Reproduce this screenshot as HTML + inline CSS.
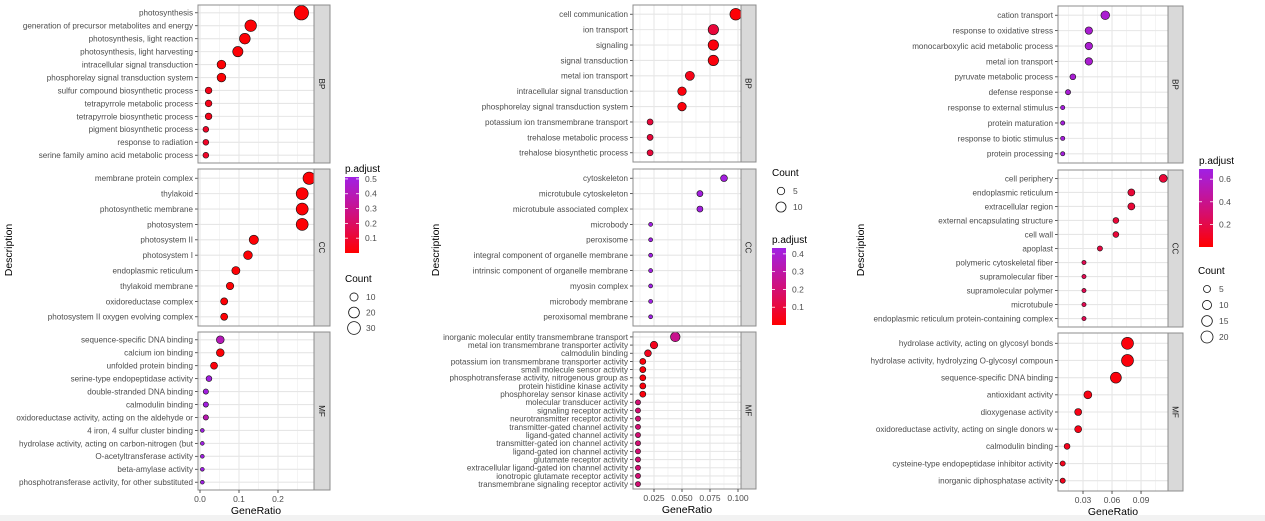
<!DOCTYPE html>
<html><head><meta charset="utf-8"><style>
html,body{margin:0;padding:0;background:#fff;}
svg{display:block;font-family:"Liberation Sans",Arial,sans-serif;}
</style></head><body>
<svg id="chart" width="1265" height="521" viewBox="0 0 1265 521">
<rect x="0" y="515" width="1265" height="6" fill="#f2f2f2"/>
</svg>
<script>
// ---------- Panel 1 data ----------
const p1BPTerms=["photosynthesis","generation of precursor metabolites and energy","photosynthesis, light reaction","photosynthesis, light harvesting","intracellular signal transduction","phosphorelay signal transduction system","sulfur compound biosynthetic process","tetrapyrrole metabolic process","tetrapyrrole biosynthetic process","pigment biosynthetic process","response to radiation","serine family amino acid metabolic process"];
const p1BPRatio=[0.26,0.13,0.115,0.097,0.055,0.055,0.022,0.022,0.022,0.015,0.015,0.015];
const p1BPCount=[40,24,20,18,12,12,6,6,6,4,4,4];
const p1BPPadj=[0.01,0.01,0.01,0.01,0.01,0.01,0.05,0.05,0.05,0.08,0.08,0.08];
const p1CCTerms=["membrane protein complex","thylakoid","photosynthetic membrane","photosystem","photosystem II","photosystem I","endoplasmic reticulum","thylakoid membrane","oxidoreductase complex","photosystem II oxygen evolving complex"];
const p1CCRatio=[0.28,0.262,0.262,0.262,0.138,0.123,0.092,0.077,0.062,0.062];
const p1CCCount=[28,26,26,26,14,12,10,8,7,7];
const p1CCPadj=[0.01,0.01,0.01,0.01,0.01,0.01,0.01,0.01,0.01,0.01];
const p1MFTerms=["sequence-specific DNA binding","calcium ion binding","unfolded protein binding","serine-type endopeptidase activity","double-stranded DNA binding","calmodulin binding","oxidoreductase activity, acting on the aldehyde or","4 iron, 4 sulfur cluster binding","hydrolase activity, acting on carbon-nitrogen (but","O-acetyltransferase activity","beta-amylase activity","phosphotransferase activity, for other substituted"];
const p1MFRatio=[0.052,0.052,0.036,0.023,0.015,0.015,0.015,0.006,0.006,0.006,0.006,0.006];
const p1MFCount=[9,9,7,4,3,3,3,1,1,1,1,1];
const p1MFPadj=[0.4,0.01,0.02,0.5,0.5,0.5,0.38,0.55,0.55,0.55,0.55,0.55];
const p1Ticks=[0,0.1,0.2];
const p1TickLabels=["0.0","0.1","0.2"];
const p1PadjTicks=[0.1,0.2,0.3,0.4,0.5];
const p1CountLegend=[10,20,30];

// ---------- Panel 2 data ----------
const p2BPTerms=["cell communication","ion transport","signaling","signal transduction","metal ion transport","intracellular signal transduction","phosphorelay signal transduction system","potassium ion transmembrane transport","trehalose metabolic process","trehalose biosynthetic process"];
const p2BPRatio=[0.098,0.078,0.078,0.078,0.057,0.05,0.05,0.0215,0.0215,0.0215];
const p2BPCount=[14,11,11,11,8,7,7,3,3,3];
const p2BPPadj=[0.01,0.1,0.02,0.02,0.04,0.02,0.02,0.1,0.1,0.1];
const p2CCTerms=["cytoskeleton","microtubule cytoskeleton","microtubule associated complex","microbody","peroxisome","integral component of organelle membrane","intrinsic component of organelle membrane","myosin complex","microbody membrane","peroxisomal membrane"];
const p2CCRatio=[0.0875,0.066,0.066,0.022,0.022,0.022,0.022,0.022,0.022,0.022];
const p2CCCount=[4,3,3,1,1,1,1,1,1,1];
const p2CCPadj=[0.42,0.42,0.42,0.43,0.43,0.43,0.43,0.43,0.43,0.43];
const p2MFTerms=["inorganic molecular entity transmembrane transport","metal ion transmembrane transporter activity","calmodulin binding","potassium ion transmembrane transporter activity","small molecule sensor activity","phosphotransferase activity, nitrogenous group as","protein histidine kinase activity","phosphorelay sensor kinase activity","molecular transducer activity","signaling receptor activity","neurotransmitter receptor activity","transmitter-gated channel activity","ligand-gated channel activity","transmitter-gated ion channel activity","ligand-gated ion channel activity","glutamate receptor activity","extracellular ligand-gated ion channel activity","ionotropic glutamate receptor activity","transmembrane signaling receptor activity"];
const p2MFRatio=[0.044,0.025,0.0196,0.015,0.015,0.015,0.015,0.015,0.0107,0.0107,0.0107,0.0107,0.0107,0.0107,0.0107,0.0107,0.0107,0.0107,0.0107];
const p2MFCount=[9,5,4,3,3,3,3,3,2,2,2,2,2,2,2,2,2,2,2];
const p2MFPadj=[0.25,0.05,0.05,0.02,0.02,0.02,0.02,0.02,0.2,0.2,0.2,0.2,0.2,0.2,0.2,0.2,0.2,0.2,0.2];
const p2Ticks=[0.025,0.05,0.075,0.1];
const p2TickLabels=["0.025","0.050","0.075","0.100"];
const p2PadjTicks=[0.1,0.2,0.3,0.4];
const p2CountLegend=[5,10];

// ---------- Panel 3 data ----------
const p3BPTerms=["cation transport","response to oxidative stress","monocarboxylic acid metabolic process","metal ion transport","pyruvate metabolic process","defense response","response to external stimulus","protein maturation","response to biotic stimulus","protein processing"];
const p3BPRatio=[0.053,0.036,0.036,0.036,0.0195,0.0145,0.009,0.009,0.009,0.009];
const p3BPCount=[9,6,6,6,3,2,1,1,1,1];
const p3BPPadj=[0.62,0.62,0.62,0.62,0.63,0.63,0.66,0.66,0.66,0.66];
const p3CCTerms=["cell periphery","endoplasmic reticulum","extracellular region","external encapsulating structure","cell wall","apoplast","polymeric cytoskeletal fiber","supramolecular fiber","supramolecular polymer","microtubule","endoplasmic reticulum protein-containing complex"];
const p3CCRatio=[0.113,0.08,0.08,0.064,0.064,0.0475,0.031,0.031,0.031,0.031,0.031];
const p3CCCount=[7,5,5,3,3,2,1,1,1,1,1];
const p3CCPadj=[0.15,0.15,0.15,0.15,0.15,0.18,0.22,0.22,0.22,0.22,0.22];
const p3MFTerms=["hydrolase activity, acting on glycosyl bonds","hydrolase activity, hydrolyzing O-glycosyl compoun","sequence-specific DNA binding","antioxidant activity","dioxygenase activity","oxidoreductase activity, acting on single donors w","calmodulin binding","cysteine-type endopeptidase inhibitor activity","inorganic diphosphatase activity"];
const p3MFRatio=[0.076,0.076,0.064,0.035,0.025,0.025,0.0135,0.009,0.009];
const p3MFCount=[20,20,16,7,5,5,3,2,2];
const p3MFPadj=[0.03,0.03,0.03,0.05,0.06,0.06,0.08,0.08,0.08];
const p3Ticks=[0.03,0.06,0.09];
const p3TickLabels=["0.03","0.06","0.09"];
const p3PadjTicks=[0.2,0.4,0.6];
const p3CountLegend=[5,10,15,20];

const NS="http://www.w3.org/2000/svg";
const svg=document.getElementById('chart');
function mk(tag,attrs,parent,text){
  const e=document.createElementNS(NS,tag);
  for(const k in attrs)e.setAttribute(k,attrs[k]);
  if(text!==undefined)e.textContent=text;
  (parent||svg).appendChild(e);return e;
}
function lerpColor(t){
  t=Math.max(0,Math.min(1,t));
  const a=[255,0,0],b=[160,32,240];
  const r=Math.round(a[0]+(b[0]-a[0])*t), g=Math.round(a[1]+(b[1]-a[1])*t), bl=Math.round(a[2]+(b[2]-a[2])*t*0.95+(t>0?10*Math.sin(Math.PI*t):0));
  return `rgb(${r},${g},${Math.min(255,bl)})`;
}

function drawPanel(cfg){
  const g=mk('g',{},svg);
  
  
  const xs=v=>cfg.x0+v*cfg.scale;
  const rs=c=>cfg.ra*Math.sqrt(c)+cfg.rb;
  const col=p=>lerpColor((p-cfg.pmin)/(cfg.pmax-cfg.pmin));
  cfg.facets.forEach(f=>{
    const fg=mk('g',{},g);
    
    
    mk('rect',{x:cfg.L,y:f.t,width:cfg.R-cfg.L,height:f.b-f.t,fill:'#fff'},fg);
    const allT=cfg.ticks;
    const step=allT.length>1?allT[1]-allT[0]:0.1;
    for(let v=allT[0]-step/2; xs(v)<=cfg.R; v+=step/2){
      const x=xs(v); if(x<cfg.L)continue;
      mk('line',{x1:x,x2:x,y1:f.t,y2:f.b,stroke:'#ececec','stroke-width':0.6},fg);
    }
    allT.forEach(v=>{const x=xs(v);mk('line',{x1:x,x2:x,y1:f.t,y2:f.b,stroke:'#e6e6e6','stroke-width':1.1},fg);});
    const n=f.terms.length;
    const st=(f.b-f.t)/(n-1+1.2);
    const ys=i=>f.t+st*(0.6+i);
    f.terms.forEach((term,i)=>{
      const y=ys(i);
      mk('line',{x1:cfg.L,x2:cfg.R,y1:y,y2:y,stroke:'#e6e6e6','stroke-width':1.1},fg);
      const lab=mk('text',{x:cfg.L-5,y:y+2.9,'font-size':cfg.fs,fill:'#4d4d4d','text-anchor':'end'},fg,term);
      
      
      mk('line',{x1:cfg.L-3,x2:cfg.L,y1:y,y2:y,stroke:'#333','stroke-width':0.8},fg);
    });
    f.terms.forEach((term,i)=>{
      const c=mk('circle',{cx:xs(f.ratio[i]),cy:ys(i),r:rs(f.count[i]),fill:col(f.padj[i]),stroke:'#111','stroke-width':0.6},fg);
      
      
    });
    mk('rect',{x:cfg.L,y:f.t,width:cfg.R-cfg.L,height:f.b-f.t,fill:'none',stroke:'#8c8c8c','stroke-width':1},fg);
    const sr=mk('rect',{x:cfg.R,y:f.t,width:cfg.SW,height:f.b-f.t,fill:'#d9d9d9',stroke:'#8c8c8c','stroke-width':1},fg);
    
    
    const cx=cfg.R+cfg.SW/2, cy=(f.t+f.b)/2;
    mk('text',{x:cx,y:cy,'font-size':8,fill:'#1a1a1a','text-anchor':'middle',transform:`rotate(90 ${cx} ${cy})`,dy:3},fg,f.label);
  });
  const bot=cfg.facets[cfg.facets.length-1].b;
  cfg.ticks.forEach((v,i)=>{
    const x=xs(v);
    mk('line',{x1:x,x2:x,y1:bot,y2:bot+3,stroke:'#333','stroke-width':0.8},g);
    const t=mk('text',{x:x,y:bot+12,'font-size':8.5,fill:'#4d4d4d','text-anchor':'middle'},g,cfg.tickLabels[i]);
    
    
  });
  const xt=mk('text',{x:(cfg.L+cfg.R)/2,y:bot+24,'font-size':10.5,fill:'#000','text-anchor':'middle'},g,'GeneRatio');
  
  
  const yt=mk('text',{x:cfg.yTitleX,y:250,'font-size':10.5,fill:'#000','text-anchor':'middle',transform:`rotate(-90 ${cfg.yTitleX} 250)`},g,'Description');
  
  
  const pl=cfg.pLeg;
  const gid='grad'+cfg.id;
  const defs=mk('defs',{},g);
  const lg=mk('linearGradient',{id:gid,x1:0,y1:1,x2:0,y2:0},defs);
  for(let k=0;k<=10;k++){mk('stop',{offset:k/10,'stop-color':lerpColor(k/10)},lg);}
  const pt=mk('text',{x:pl.x,y:pl.y-5,'font-size':10,fill:'#000'},g,'p.adjust');
  
  
  const bar=mk('rect',{x:pl.x,y:pl.y,width:14,height:pl.h,fill:`url(#${gid})`},g);
  
  
  const py=p=>pl.y+pl.h*(1-(p-cfg.pmin)/(cfg.pmax-cfg.pmin));
  cfg.padjTicks.forEach(p=>{
    const y=py(p);
    mk('line',{x1:pl.x,x2:pl.x+3,y1:y,y2:y,stroke:'#fff','stroke-width':0.8},g);
    mk('line',{x1:pl.x+11,x2:pl.x+14,y1:y,y2:y,stroke:'#fff','stroke-width':0.8},g);
    mk('text',{x:pl.x+20,y:y+3,'font-size':8.5,fill:'#4d4d4d'},g,p.toFixed(1));
  });
  const cl=cfg.cLeg;
  const ct=mk('text',{x:cl.x,y:cl.y,'font-size':10,fill:'#000'},g,'Count');
  
  
  cfg.countLegend.forEach((c,i)=>{
    const y=cl.y+15+i*cl.dy;
    const e=mk('circle',{cx:cl.x+9,cy:y,r:rs(c),fill:'none',stroke:'#111','stroke-width':0.8},g);
    
    
    mk('text',{x:cl.x+21,y:y+3,'font-size':8.5,fill:'#4d4d4d'},g,String(c));
  });
}

drawPanel({id:1,name:'panel-1',L:198,R:314,SW:16,x0:200,scale:390,fs:8.1,ra:1.0,rb:0.9,pmin:0,pmax:0.513,
  ticks:p1Ticks,tickLabels:p1TickLabels,padjTicks:p1PadjTicks,countLegend:p1CountLegend,yTitleX:12,
  pLeg:{x:345,y:177,h:76},cLeg:{x:345,y:282,dy:15.5},
  facets:[{label:'BP',t:5,b:163,terms:p1BPTerms,ratio:p1BPRatio,count:p1BPCount,padj:p1BPPadj},
          {label:'CC',t:169,b:326,terms:p1CCTerms,ratio:p1CCRatio,count:p1CCCount,padj:p1CCPadj},
          {label:'MF',t:332,b:490,terms:p1MFTerms,ratio:p1MFRatio,count:p1MFCount,padj:p1MFPadj}]});
drawPanel({id:2,name:'panel-2',L:633,R:741,SW:15,x0:626,scale:1120,fs:8.1,ra:1.4,rb:0.6,pmin:0.0,pmax:0.433,
  ticks:p2Ticks,tickLabels:p2TickLabels,padjTicks:p2PadjTicks,countLegend:p2CountLegend,yTitleX:439,
  pLeg:{x:772,y:248,h:77},cLeg:{x:772,y:176,dy:16},
  facets:[{label:'BP',t:5,b:162,terms:p2BPTerms,ratio:p2BPRatio,count:p2BPCount,padj:p2BPPadj},
          {label:'CC',t:169,b:326,terms:p2CCTerms,ratio:p2CCRatio,count:p2CCCount,padj:p2CCPadj},
          {label:'MF',t:332,b:489,terms:p2MFTerms,ratio:p2MFRatio,count:p2MFCount,padj:p2MFPadj}]});
drawPanel({id:3,name:'panel-3',L:1058,R:1168,SW:15,x0:1054,scale:967,fs:8.1,ra:1.12,rb:1.0,pmin:0,pmax:0.69,
  ticks:p3Ticks,tickLabels:p3TickLabels,padjTicks:p3PadjTicks,countLegend:p3CountLegend,yTitleX:864,
  pLeg:{x:1199,y:169,h:78},cLeg:{x:1198,y:274,dy:16},
  facets:[{label:'BP',t:6,b:163,terms:p3BPTerms,ratio:p3BPRatio,count:p3BPCount,padj:p3BPPadj},
          {label:'CC',t:170,b:327,terms:p3CCTerms,ratio:p3CCRatio,count:p3CCCount,padj:p3CCPadj},
          {label:'MF',t:333,b:491,terms:p3MFTerms,ratio:p3MFRatio,count:p3MFCount,padj:p3MFPadj}]});
</script>
</body></html>
